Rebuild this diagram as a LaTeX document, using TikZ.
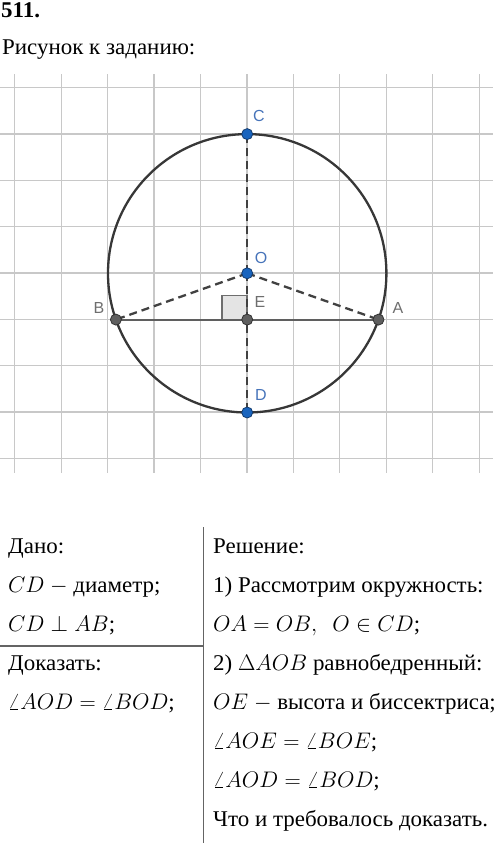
\RequirePackage{fix-cm}
\documentclass[tikz,border=0pt]{standalone}
\usepackage{fontspec}
\setmainfont{Liberation Serif}[FakeStretch=1.02]
\newfontfamily\lblfont{Liberation Sans}
\definecolor{gridc}{RGB}{200,200,200}
\definecolor{circc}{RGB}{55,55,55}
\definecolor{ptblue}{RGB}{25,100,190}
\definecolor{ptblueedge}{RGB}{20,60,110}
\definecolor{ptgrey}{RGB}{95,95,95}
\definecolor{ptgreyedge}{RGB}{50,50,50}
\definecolor{lblblue}{RGB}{70,115,185}
\definecolor{lblgrey}{RGB}{110,110,110}
\definecolor{sqfill}{RGB}{228,228,228}
\definecolor{sqdraw}{RGB}{110,110,110}
\definecolor{rulec}{RGB}{100,100,100}
\tikzset{
  gridline/.style={draw=gridc, line width=1.2pt},
  circline/.style={draw=circc, line width=2.3pt},
  dashline/.style={draw=circc!95, line width=2.3pt, dash pattern=on 8pt off 5pt},
  segline/.style={draw=ptgrey, line width=2pt},
  bpt/.style={circle, fill=ptblue, draw=ptblueedge, line width=0.8pt, inner sep=0pt, minimum size=11pt},
  gpt/.style={circle, fill=ptgrey, draw=ptgreyedge, line width=0.8pt, inner sep=0pt, minimum size=11pt},
  blbl/.style={text=lblblue, font=\lblfont\fontsize{16}{18}\selectfont, inner sep=0pt},
  glbl/.style={text=lblgrey, font=\lblfont\fontsize{16}{18}\selectfont, inner sep=0pt},
  txt/.style={anchor=base west, inner sep=0pt, font=\fontsize{22.5}{27}\selectfont},
  rule/.style={draw=rulec, line width=1.2pt}
}
\begin{document}
\begin{tikzpicture}[x=1pt, y=-1pt]
\useasboundingbox (0,0) rectangle (500,843);
% grid
\foreach \k in {0,...,10} \draw[gridline] (14.7+46.45*\k,74) -- (14.7+46.45*\k,473);
\foreach \j in {0,...,8} \draw[gridline] (0,87.7+46.33*\j) -- (493,87.7+46.33*\j);
% points
\coordinate (O) at (247.2,273.3);
\coordinate (C) at (247.2,134.1);
\coordinate (D) at (247.2,412.5);
\coordinate (E) at (247.2,319.6);
\coordinate (A) at (378.5,319.6);
\coordinate (B) at (115.9,319.6);
% right angle mark
\draw[fill=sqfill, draw=sqdraw, line width=1.5pt] (E) rectangle ++(-25,-24);
% circle
\draw[circline] (O) circle [radius=139.2];
% chord AB
\draw[segline] (B) -- (A);
% dashed
\draw[dashline] (O) -- (C);
\draw[dashline] (O) -- (D);
\draw[dashline] (O) -- (A);
\draw[dashline] (O) -- (B);
% dots
\node[bpt] (Cdot) at (C) {};
\node[bpt] (Odot) at (O) {};
\node[bpt] (Ddot) at (D) {};
\node[gpt] (Edot) at (E) {};
\node[gpt] (Adot) at (A) {};
\node[gpt] (Bdot) at (B) {};
% labels
\node[blbl] (Clbl) at (259,116) {C};
\node[blbl] (Olbl) at (261,258) {O};
\node[blbl] (Dlbl) at (261,395) {D};
\node[glbl] (Elbl) at (260,302) {E};
\node[glbl] (Albl) at (398,308) {A};
\node[glbl] (Blbl) at (99,308) {B};
% header
\node[anchor=base west, inner sep=0pt, font=\bfseries\fontsize{22.5}{26}\selectfont] (num) at (1,18) {511.};
\node[txt] (cap) at (2,55) {Рисунок к заданию:};
% rules
\coordinate (vtop) at (203.5,527);
\coordinate (vbot) at (203.5,843);
\coordinate (hl) at (0,646);
\coordinate (hr) at (203.5,646);
\draw[rule] (vtop) -- (vbot);
\draw[rule] (hl) -- (hr);
% left column
\node[txt] (g1) at (8,553) {Дано:};
\node[txt] (g2) at (8,592) {$CD$ $-$ диаметр;};
\node[txt] (g3) at (8,631) {$CD\perp AB$;};
\node[txt] (p1) at (8,670) {Доказать:};
\node[txt] (p2) at (8,709) {$\angle AOD=\angle BOD$;};
% right column
\node[txt] (s1) at (213,553) {Решение:};
\node[txt] (s2) at (213,592) {1) Рассмотрим окружность:};
\node[txt] (s3) at (213,631) {$OA=OB,\ \ O\in CD$;};
\node[txt] (s4) at (213,670) {2) $\Delta AOB$ равнобедренный:};
\node[txt] (s5) at (213,709) {$OE$ $-$ высота и биссектриса;};
\node[txt] (s6) at (213,748) {$\angle AOE=\angle BOE$;};
\node[txt] (s7) at (213,787) {$\angle AOD=\angle BOD$;};
\node[txt] (s8) at (213,826) {Что и требовалось доказать.};
\end{tikzpicture}
\end{document}
